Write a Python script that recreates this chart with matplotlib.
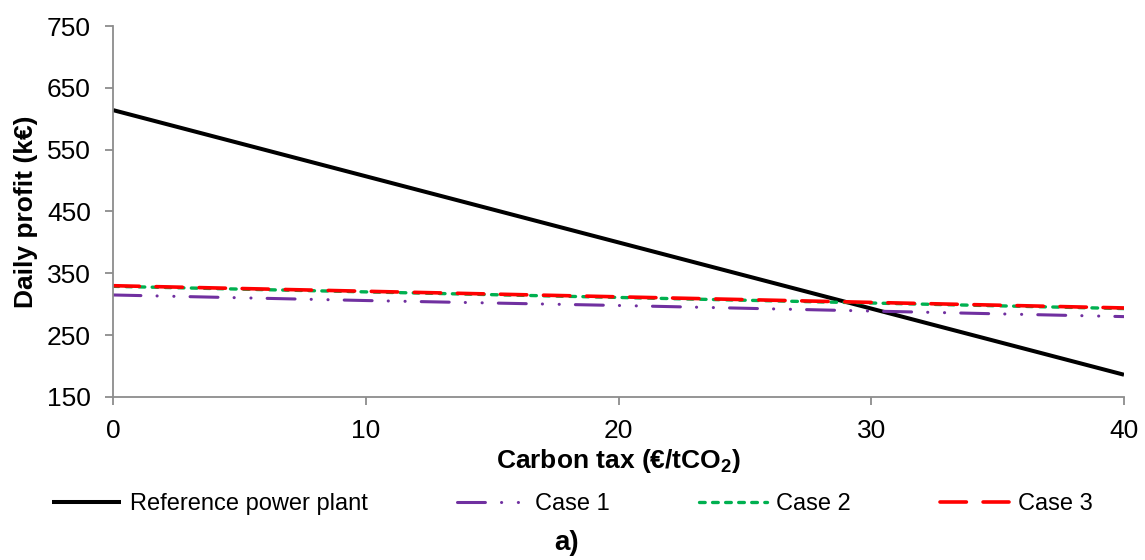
import matplotlib
matplotlib.use("Agg")
import matplotlib.pyplot as plt

# Data
carbon_tax = [0, 10, 20, 30, 40]
reference_plant = [614, 507, 400, 293, 186]
case_1 = [315, 306, 298, 289, 280]
case_2 = [329, 320, 311, 302, 293]
case_3 = [330, 321, 312, 303, 294]

plt.rcParams.update({
    "font.family": ["Liberation Sans", "DejaVu Sans"],
    "mathtext.fontset": "custom",
    "mathtext.rm": "Liberation Sans",
    "mathtext.bf": "Liberation Sans:bold",
    "lines.scale_dashes": False,
})

AXIS_GREY = "#8c8c8c"

fig = plt.figure(figsize=(11.45, 5.6), dpi=100)
ax = fig.add_axes([113 / 1145, 1 - 397 / 560, (1124 - 113) / 1145, (397 - 26) / 560])

ax.plot(carbon_tax, reference_plant, color="black", linewidth=2.9,
        solid_capstyle="butt", label="Reference power plant")
ax.plot(carbon_tax, case_1, color="#7030a0", linewidth=2.2,
        dash_capstyle="round", dashes=(20.1, 11.6, 0.1, 12.0, 0.1, 11.6),
        label="Case 1")
ax.plot(carbon_tax, case_2, color="#00b050", linewidth=2.4,
        dash_capstyle="round", dashes=(4.1, 5.3), label="Case 2")
ax.plot(carbon_tax, case_3, color="#ff0000", linewidth=2.6,
        dash_capstyle="round", dashes=(19.0, 12.0), label="Case 3")

ax.set_xlim(0, 40)
ax.set_ylim(150, 750)
ax.set_xticks(range(0, 41, 10))
ax.set_yticks(range(150, 751, 100))

for side in ("top", "right"):
    ax.spines[side].set_visible(False)
for side in ("left", "bottom"):
    ax.spines[side].set_color(AXIS_GREY)
    ax.spines[side].set_linewidth(1.3)

ax.tick_params(axis="both", colors=AXIS_GREY, labelcolor="black",
               length=6, width=1.3, labelsize=19)
ax.tick_params(axis="y", pad=10)
ax.tick_params(axis="x", pad=10)

ax.set_xlabel(r"Carbon tax (€/tCO$_\mathbf{2}$)", fontsize=19,
              fontweight="bold", labelpad=3)
ax.set_ylabel("Daily profit (k€)", fontsize=19, fontweight="bold", labelpad=6)

fig.legend(loc="center", bbox_to_anchor=(0.5, 1 - 504 / 560), ncol=4,
           frameon=False, fontsize=17, handlelength=2.9,
           columnspacing=3.77, handletextpad=0.4)

fig.text(567 / 1145, 1 - 543 / 560, "a)", ha="center", va="center",
         fontsize=20, fontweight="bold")

fig.savefig("out.png", dpi=100)
